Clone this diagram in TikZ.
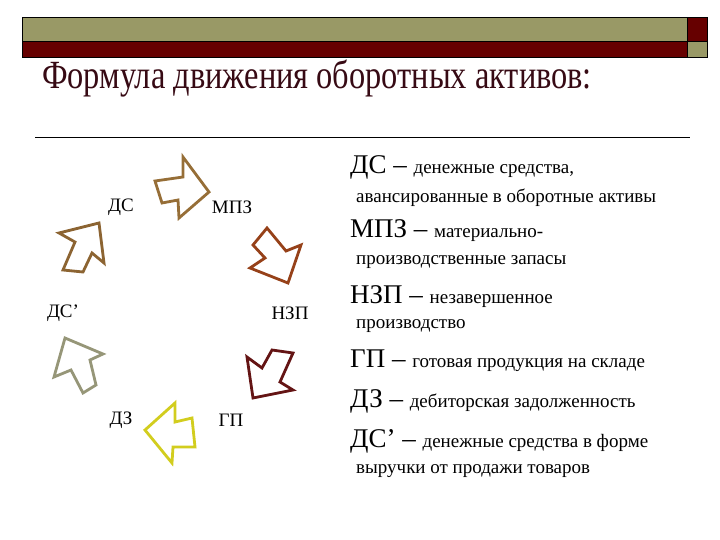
\documentclass[tikz,border=0pt]{standalone}
\usepackage{fontspec}
\setmainfont{Liberation Serif}
\newfontfamily\titlefont[FakeStretch=0.81]{Liberation Serif}
\usetikzlibrary{calc}

\definecolor{barolive}{RGB}{153,153,102}
\definecolor{barred}{RGB}{102,0,0}
\definecolor{titlered}{RGB}{55,10,20}
\definecolor{arrbrown}{RGB}{150,110,55}
\definecolor{arrtan}{RGB}{140,100,50}
\definecolor{arrrust}{RGB}{150,65,25}
\definecolor{arrmaroon}{RGB}{100,20,20}
\definecolor{arryellow}{RGB}{210,205,30}
\definecolor{arrgrey}{RGB}{150,150,120}

\newcommand{\abbrfont}{\fontsize{27}{30}\selectfont}
\newcommand{\descfont}{\fontsize{19}{22}\selectfont}

\tikzset{
	blockarr/.style={line width=2.8pt, line join=miter},
	label/.style={font=\descfont, inner sep=0pt},
	desc/.style={anchor=base west, inner sep=0pt}
}

\begin{document}
\begin{tikzpicture}[x=1pt,y=-1pt]
	\useasboundingbox (0,0) rectangle (720,540);

	% Header bar
	\draw[fill=barolive] (22,17) rectangle (687,41);
	\draw[fill=barred] (22,41) rectangle (687,57);
	\draw[fill=barred] (687,17) rectangle (707,41);
	\draw[fill=barolive] (687,41) rectangle (707,57);

	% Title
	\node[anchor=base west, inner sep=0pt, text=titlered] (title) at (42,89)
		{\titlefont\fontsize{40}{44}\selectfont Формула движения оборотных активов:};
	\draw[line width=0.8pt] (35,137) -- (690,137);

	% Cycle labels
	\node[label] (ds)  at (121,207) {ДС};
	\node[label] (mpz) at (232,207) {МПЗ};
	\node[label] (nzp) at (290,313) {НЗП};
	\node[label] (gp)  at (231,420) {ГП};
	\node[label] (dz)  at (121,420) {ДЗ};
	\node[label] (dsp) at (63,313)  {ДС’};

	% Arrows of the cycle
	\draw[blockarr, arrbrown] (209,192) -- (183,157) -- (183,177) -- (155,181)
		-- (162,203) -- (178,200) -- (179,218) -- cycle;
	\draw[blockarr, arrrust] (288,283) -- (301,245) -- (286,251) -- (267,228)
		-- (253,245) -- (265,258) -- (250,268) -- cycle;
	\draw[blockarr, arrmaroon] (253,398) -- (247,357) -- (262,368) -- (272,350)
		-- (293,353) -- (280,382) -- (293,390) -- cycle;
	\draw[blockarr, arryellow] (145,430) -- (175,403) -- (175,422) -- (192,418)
		-- (195,447) -- (173,447) -- (172,463) -- cycle;
	\draw[blockarr, arrgrey] (65,338) -- (103,354) -- (90,360) -- (96,385)
		-- (83,393) -- (71,370) -- (54,377) -- cycle;
	\draw[blockarr, arrtan] (99,223) -- (59,233) -- (75,242) -- (63,270)
		-- (83,272) -- (92,253) -- (104,263) -- cycle;

	% Legend
	\node[desc] (lds)   at (350,174) {\abbrfont ДС – \descfont денежные средства,};
	\node[desc] (lds2)  at (356,203) {\descfont авансированные в оборотные активы};
	\node[desc] (lmpz)  at (350,237) {\abbrfont МПЗ – \descfont материально-};
	\node[desc] (lmpz2) at (356,264) {\descfont производственные запасы};
	\node[desc] (lnzp)  at (350,303) {\abbrfont НЗП – \descfont незавершенное};
	\node[desc] (lnzp2) at (356,328) {\descfont производство};
	\node[desc] (lgp)   at (350,367) {\abbrfont ГП – \descfont готовая продукция на складе};
	\node[desc] (ldz)   at (350,407) {\abbrfont ДЗ – \descfont дебиторская задолженность};
	\node[desc] (ldsp)  at (350,447) {\abbrfont ДС’ – \descfont денежные средства в форме};
	\node[desc] (ldsp2) at (356,473) {\descfont выручки от продажи товаров};
\end{tikzpicture}
\end{document}
